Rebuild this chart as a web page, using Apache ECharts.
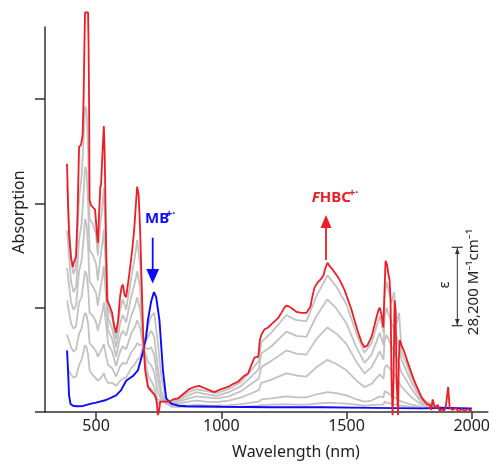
<!DOCTYPE html>
<html><head><meta charset="utf-8">
<script src="https://cdn.jsdelivr.net/npm/echarts@6/dist/echarts.min.js"></script>
<style>html,body{margin:0;padding:0;background:#fff}#c{width:493px;height:465px}</style>
</head><body><div id="c"></div>
<script>
const FONT = 'Noto Sans';
const xTicks = [500, 1000, 1500, 2000];
const yTicks = [0, 1, 2, 3];

// Final spectrum (FHBC+.)
const redW = [384,388,392,400,407,412,420,426,432,440,446,450,454,456,468,470,472,474,480,488,496,502,507,512,517,520,526,531,534,536,540,544,552,564,572,580,588,596,602,607,614,620,632,644,652,660,664,670,676,680,684,688,696,707,720,732,740,744,747,752,756,768,792,808,827,852,872,892,912,932,952,972,1000,1027,1048,1067,1088,1107,1120,1132,1148,1154,1160,1172,1187,1204,1227,1240,1252,1260,1272,1284,1300,1320,1340,1348,1356,1364,1372,1384,1392,1400,1408,1416,1424,1432,1440,1452,1467,1480,1492,1507,1520,1532,1547,1560,1572,1584,1600,1612,1620,1628,1633,1640,1647,1652,1656,1662,1668,1672,1676,1680,1684,1688,1692,1696,1700,1706,1709,1713,1720,1732,1744,1760,1772,1787,1800,1812,1824,1832,1838,1844,1850,1856,1864,1872,1880,1888,1896,1906,1912,1924,1936,1948,1960,1972,1984,1996,2000];
const redV = [2.38,2.0,1.7,1.48,1.39,1.44,1.49,1.9,2.54,2.56,2.65,2.99,3.6,3.83,3.83,3.5,2.99,2.03,1.98,1.96,1.94,1.75,1.62,1.9,2.16,2.18,2.51,2.74,2.5,2.22,1.6,1.07,1.03,0.95,0.83,0.76,0.88,1.11,1.2,1.22,1.12,1.10,1.31,1.55,1.74,2.03,2.16,2.08,1.74,1.4,1.07,0.73,0.40,0.24,0.20,0.17,0.13,0.05,-0.03,0.02,0.10,0.10,0.10,0.12,0.13,0.18,0.22,0.24,0.25,0.23,0.21,0.19,0.22,0.24,0.27,0.29,0.34,0.37,0.45,0.52,0.53,0.69,0.74,0.79,0.81,0.85,0.90,0.95,1.00,1.02,1.01,0.99,0.96,0.95,0.95,0.98,1.01,1.11,1.19,1.24,1.26,1.28,1.31,1.38,1.43,1.40,1.38,1.34,1.29,1.23,1.17,1.07,0.98,0.88,0.76,0.67,0.62,0.64,0.72,0.83,0.91,0.98,1.00,0.93,0.81,1.17,1.45,1.41,1.31,1.27,1.07,0.31,-0.03,0.31,1.07,0.98,0.31,-0.03,0.50,0.69,0.64,0.57,0.48,0.37,0.29,0.21,0.14,0.10,0.07,0.07,0.02,0.12,0.07,0.03,0.07,0.01,0.03,0.01,0.04,0.24,0.04,0.02,0.04,0.00,0.03,0.01,0.03,0.01,0.02];

// Starting spectrum (MB+.)
const blueW = [384,388,392,398,408,424,448,473,500,540,580,600,620,647,667,687,700,707,720,731,740,753,767,780,800,830,860,1000,1200,1400,1600,1800,1900,2000];
const blueV = [0.59,0.40,0.16,0.077,0.06,0.055,0.058,0.075,0.09,0.115,0.16,0.21,0.30,0.345,0.40,0.57,0.72,0.88,1.06,1.15,1.10,0.88,0.40,0.13,0.08,0.06,0.055,0.05,0.045,0.045,0.04,0.035,0.04,0.035];

// Intermediate spectra (gray)
const grayW = [384,400,410,420,432,442,450,456,462,468,474,488,500,507,517,526,531,538,548,564,580,596,607,620,640,656,664,676,690,707,720,732,745,760,780,800,830,870,900,940,980,1030,1080,1120,1150,1160,1200,1260,1300,1340,1380,1424,1460,1500,1540,1572,1600,1633,1648,1652,1660,1680,1690,1700,1710,1720,1760,1800,1850,1900,1950,2000];
const gray1 = [2.18,1.45,1.32,1.40,2.05,2.25,2.6,2.93,2.90,2.5, 1.85,1.80,1.70,1.50,1.80,2.00,2.15,1.70,1.00,0.90, 0.70,0.98,1.08,0.98,1.28,1.50,1.65,1.40,0.58,0.26, 0.22,0.18,0.08,0.10,0.10,0.10,0.13,0.19,0.22,0.20, 0.18,0.22,0.29,0.40,0.49,0.67,0.76,0.93,0.88,0.87, 1.11,1.31,1.20,1.03,0.75,0.57,0.66,0.92,0.76,1.10, 1.25,1.05,1.15,0.85,0.95,0.58,0.33,0.13,0.06,0.04, 0.03,0.03];
const gray2 = [1.74,1.25,1.15,1.20,1.65,1.80,2.1,2.35,2.30,2.0, 1.55,1.50,1.42,1.26,1.48,1.63,1.75,1.42,0.90,0.80, 0.62,0.85,0.93,0.86,1.10,1.25,1.35,1.18,0.60,0.35, 0.30,0.24,0.12,0.11,0.09,0.09,0.115,0.16,0.19,0.17, 0.155,0.19,0.25,0.34,0.41,0.56,0.63,0.77,0.73,0.72, 0.92,1.08,0.99,0.85,0.62,0.47,0.55,0.76,0.64,0.90, 1.00,0.85,0.80,0.72,0.62,0.50,0.28,0.11,0.05,0.04, 0.03,0.03];
const gray3 = [1.38,1.05,0.98,1.02,1.35,1.45,1.65,1.85,1.80,1.6, 1.25,1.20,1.14,1.02,1.18,1.30,1.40,1.15,0.78,0.70, 0.53,0.72,0.78,0.73,0.92,1.02,1.10,0.98,0.62,0.48, 0.45,0.38,0.20,0.12,0.08,0.08,0.10,0.13,0.15,0.14, 0.13,0.15,0.20,0.27,0.32,0.43,0.49,0.59,0.56,0.55, 0.70,0.81,0.75,0.65,0.48,0.37,0.43,0.58,0.50,0.68, 0.74,0.63,0.58,0.52,0.45,0.38,0.22,0.09,0.05,0.04, 0.03,0.03];
const gray4 = [1.07,0.85,0.80,0.82,1.05,1.10,1.25,1.35,1.32,1.2, 0.95,0.92,0.86,0.78,0.88,0.97,1.05,0.88,0.65,0.58, 0.44,0.58,0.63,0.60,0.75,0.82,0.88,0.80,0.63,0.60, 0.62,0.55,0.32,0.15,0.08,0.07,0.08,0.10,0.11,0.10, 0.095,0.11,0.14,0.18,0.21,0.28,0.31,0.37,0.35,0.34, 0.43,0.50,0.46,0.40,0.30,0.24,0.27,0.36,0.32,0.42, 0.45,0.40,0.36,0.33,0.28,0.24,0.14,0.07,0.04,0.035, 0.03,0.03];
const gray5 = [0.74,0.62,0.58,0.60,0.75,0.80,0.90,0.95,0.93,0.85, 0.66,0.62,0.58,0.53,0.58,0.62,0.65,0.56,0.45,0.42, 0.34,0.44,0.47,0.46,0.57,0.62,0.66,0.64,0.64,0.72, 0.78,0.72,0.45,0.20,0.08,0.06,0.06,0.06,0.07,0.06, 0.06,0.065,0.075,0.09,0.10,0.12,0.13,0.15,0.14,0.14, 0.17,0.19,0.18,0.16,0.12,0.10,0.11,0.15,0.14,0.20, 0.19,0.16,0.14,0.13,0.11,0.10,0.07,0.05,0.04,0.035, 0.03,0.03];
const gray6 = [0.42,0.36,0.33,0.34,0.45,0.50,0.58,0.64,0.62,0.55, 0.40,0.35,0.32,0.30,0.32,0.35,0.37,0.32,0.28,0.28, 0.25,0.30,0.32,0.33,0.42,0.46,0.50,0.52,0.66,0.82, 0.92,0.95,0.70,0.35,0.10,0.05,0.05,0.05,0.05,0.05, 0.05,0.05,0.05,0.055,0.06,0.065,0.07,0.075,0.07,0.07, 0.08,0.09,0.085,0.08,0.07,0.06,0.065,0.07,0.07,0.10, 0.09,0.08,0.07,0.07,0.06,0.06,0.05,0.04,0.04,0.035, 0.03,0.03];
const grays = [gray1, gray2, gray3, gray4, gray5, gray6];

const RED = '#ee1c25', BLUE = '#0a0aff', GRAY = '#c2c2c2', AX = '#333';
const zip = (a, b) => a.map((x, i) => [x, b[i]]);

const lineSeries = (data, color, w) => ({
  type: 'line', data, showSymbol: false, symbol: 'none', clip: false,
  lineStyle: { color, width: w }, itemStyle: { color }, silent: true, z: 2
});

const series = grays.map(g => lineSeries(zip(grayW, g), GRAY, 1.8));
series.push(lineSeries(zip(blueW, blueV), BLUE, 1.9));
series.push(lineSeries(zip(redW, redV), RED, 1.8));

const txt = (text, x, y, o) => ({
  type: 'text', x, y, rotation: o.rot || 0, silent: true, z: 10,
  style: Object.assign({ text, fontFamily: FONT, fontSize: 16, fill: '#222', align: 'center', verticalAlign: 'middle' }, o.style || {})
});
const seg = (x1, y1, x2, y2, color, w) => ({ type: 'line', silent: true, z: 10, shape: { x1, y1, x2, y2 }, style: { stroke: color, lineWidth: w } });
const tri = (pts, color) => ({ type: 'polygon', silent: true, z: 10, shape: { points: pts }, style: { fill: color } });

const chart = echarts.init(document.getElementById('c'));
chart.setOption({
  animation: false,
  grid: { left: 45, right: 5, top: 27, bottom: 53 },
  xAxis: {
    type: 'value', min: 296, max: 2064,
    axisLine: { lineStyle: { color: AX, width: 1.5 } },
    axisTick: { customValues: xTicks, length: 7, lineStyle: { color: AX, width: 1.5 } },
    axisLabel: { customValues: xTicks, formatter: v => String(v), fontSize: 16, color: '#222', fontFamily: FONT, margin: 6 },
    splitLine: { show: false }
  },
  yAxis: {
    type: 'value', min: 0, max: 3.69,
    axisLine: { show: true, lineStyle: { color: AX, width: 1.5 } },
    axisTick: { show: true, customValues: yTicks, length: 10, lineStyle: { color: AX, width: 1.5 } },
    axisLabel: { show: false },
    splitLine: { show: false }
  },
  series,
  graphic: [
    txt('Wavelength (nm)', 296, 452, {}),
    txt('Absorption', 19, 212, { rot: Math.PI / 2 }),
    txt('MB', 145, 219, { style: { fill: BLUE, fontWeight: 'bold', fontSize: 15, align: 'left' } }),
    txt('+·', 166, 214, { style: { fill: BLUE, fontWeight: 'bold', fontSize: 11, align: 'left' } }),
    seg(152.7, 237.7, 152.7, 272, BLUE, 1.8),
    tri([[146.3, 269], [159.1, 269], [152.7, 283.5]], BLUE),
    { type: 'text', x: 311.7, y: 197.5, silent: true, z: 10,
      style: { text: '{i|F}{b|HBC}', verticalAlign: 'middle', align: 'left',
        rich: { i: { fontFamily: FONT, fontSize: 15, fontWeight: 'bold', fontStyle: 'italic', fill: RED, color: RED },
                b: { fontFamily: FONT, fontSize: 15, fontWeight: 'bold', fill: RED, color: RED } } } },
    txt('+·', 349, 193, { style: { fill: RED, fontWeight: 'bold', fontSize: 11, align: 'left' } }),
    seg(326, 260, 326, 224, RED, 1.8),
    tri([[320.5, 228], [331.5, 228], [326, 215]], RED),
    seg(457.3, 247.3, 457.3, 325.7, AX, 1),
    seg(451.7, 247.3, 462.7, 247.3, AX, 1.2),
    seg(451.7, 325.7, 462.7, 325.7, AX, 1.2),
    tri([[457.3, 248], [455, 254], [459.6, 254]], AX),
    tri([[457.3, 325], [455, 319], [459.6, 319]], AX),
    txt('ε', 445, 285, { rot: Math.PI / 2, style: { fontSize: 15 } }),
    txt('28,200 M⁻¹cm⁻¹', 474, 282, { rot: Math.PI / 2, style: { fontSize: 15 } })
  ]
});
</script>
</body></html>
